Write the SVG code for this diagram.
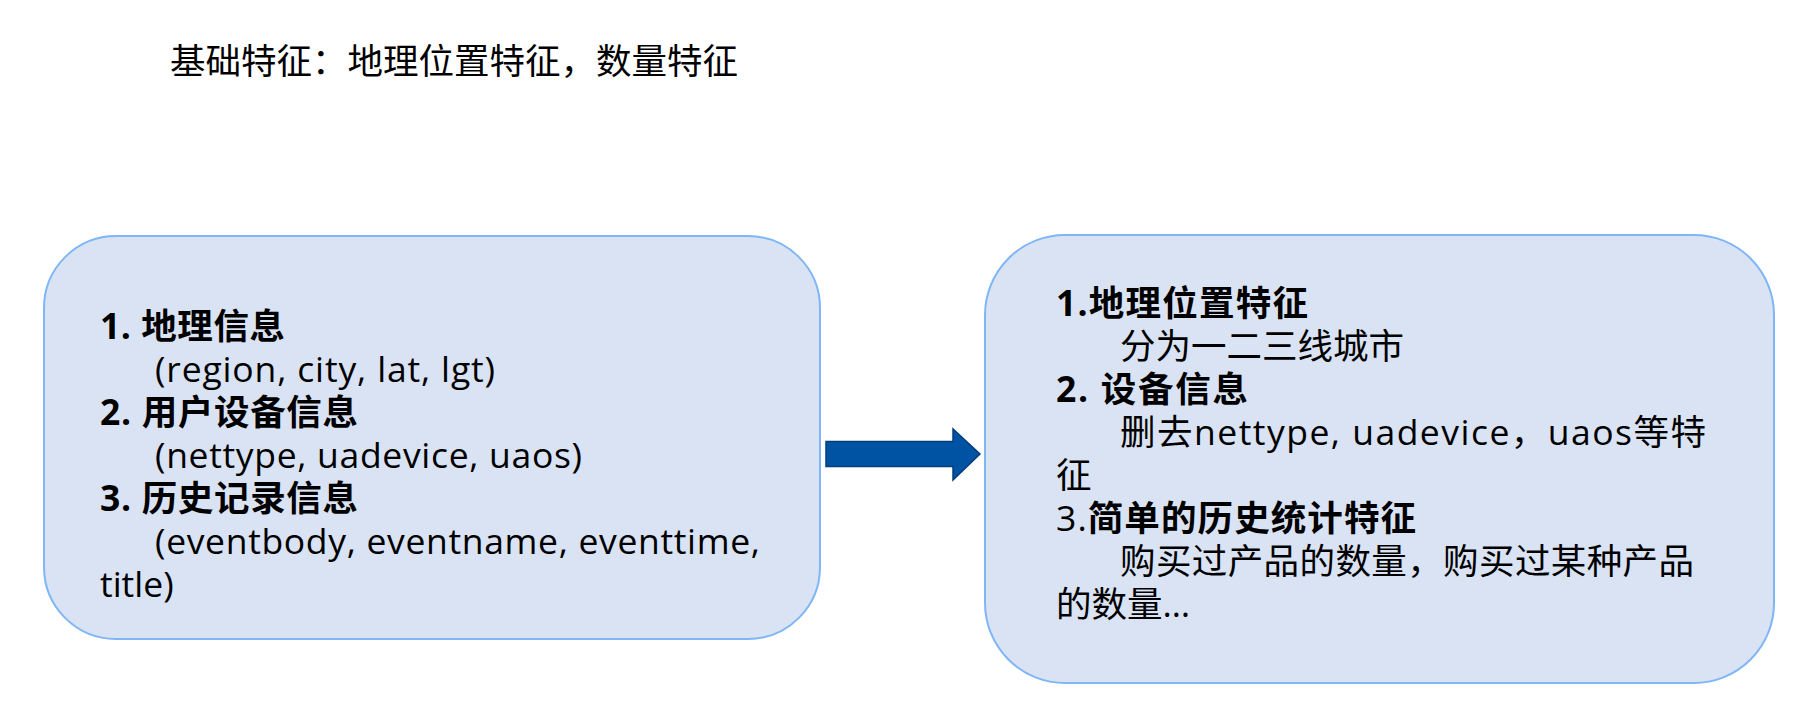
<svg xmlns="http://www.w3.org/2000/svg" width="1814" height="702" viewBox="0 0 1814 702">
<style>
.t{font-family:"Open Sans","Noto Sans CJK SC","Noto Sans",sans-serif;font-size:35.5px;fill:#000}
.b{font-weight:bold}
.box{fill:#DAE3F3;stroke:#7FB6F5;stroke-width:2}
</style>
<rect width="1814" height="702" fill="#fff"/>
<text class="t" x="170" y="74" font-size="37.4">基础特征：地理位置特征，数量特征</text>
<g id="left">
<rect class="box" x="44" y="236" width="776" height="403" rx="72" ry="72"/>
<text class="t b" x="100" y="339" textLength="185" lengthAdjust="spacing">1. 地理信息</text>
<text class="t" x="155" y="382" textLength="340" lengthAdjust="spacing">(region, city, lat, lgt)</text>
<text class="t b" x="100" y="425" textLength="258" lengthAdjust="spacing">2. 用户设备信息</text>
<text class="t" x="155" y="468" textLength="427" lengthAdjust="spacing">(nettype, uadevice, uaos)</text>
<text class="t b" x="100" y="511" textLength="258" lengthAdjust="spacing">3. 历史记录信息</text>
<text class="t" x="155" y="554" textLength="605" lengthAdjust="spacing">(eventbody, eventname, eventtime,</text>
<text class="t" x="100" y="597">title)</text>
</g>
<g id="right">
<rect class="box" x="985" y="235" width="789" height="448" rx="80" ry="80"/>
<text class="t b" x="1056" y="316" textLength="252" lengthAdjust="spacing">1.地理位置特征</text>
<text class="t" x="1120" y="359">分为一二三线城市</text>
<text class="t b" x="1056" y="402" textLength="192" lengthAdjust="spacing">2. 设备信息</text>
<text class="t" x="1120" y="445" textLength="586" lengthAdjust="spacing">删去nettype, uadevice，uaos等特</text>
<text class="t" x="1056" y="488">征</text>
<text class="t" x="1056" y="531" textLength="360" lengthAdjust="spacing">3.<tspan class="b">简单的历史统计特征</tspan></text>
<text class="t" x="1120" y="574" textLength="574" lengthAdjust="spacing">购买过产品的数量，购买过某种产品</text>
<text class="t" x="1056" y="617">的数量…</text>
</g>
<g id="connectors">
<path d="M826,441.5 L953,441.5 L953,429 L980,454 L953,480 L953,466.5 L826,466.5 Z" fill="#0052A3" stroke="#003E7E" stroke-width="1.5"/>
</g>
</svg>
